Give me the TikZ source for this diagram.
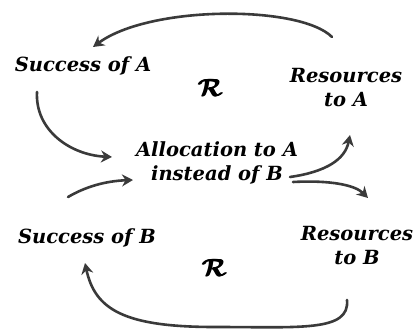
\documentclass[tikz,border=0pt]{standalone}
\usepackage{amsmath}
\usepackage{fontspec}
\setmainfont{DejaVu Serif}
\usetikzlibrary{arrows.meta}
\definecolor{ink}{HTML}{3A3A3A}
\begin{document}
\begin{tikzpicture}[x=1pt,y=-1pt,
  lbl/.style={font=\fontsize{19.5}{24}\selectfont\bfseries\itshape, align=center, inner sep=1pt},
  rr/.style={font=\fontsize{28}{28}\selectfont\boldmath},
  conn/.style={line width=2.6pt, draw=ink, line cap=round, -{Stealth[length=11pt,width=12pt]}}]
\useasboundingbox (0,0) rectangle (414,331);
\node[lbl] (sa) at (83,66) {Success of A};
\node[rr] (r1) at (211,88) {$\pmb{\mathcal{R}}$};
\node[lbl] (ra) at (346,88) {Resources\\to A};
\node[lbl] (al) at (217,163) {Allocation to A\\instead of B};
\node[lbl] (sb) at (87,238) {Success of B};
\node[rr] (r2) at (215,268) {$\pmb{\mathcal{R}}$};
\node[lbl] (rb) at (357,246) {Resources\\to B};
\coordinate (c1) at (332,37);
\coordinate (c1e) at (93,47);
\draw[conn] (c1) .. controls (300,5) and (150,5) .. (c1e);
\coordinate (c2) at (37,92);
\coordinate (c2e) at (112,157);
\draw[conn] (c2) .. controls (35,130) and (70,155) .. (c2e);
\coordinate (c3) at (290,177);
\coordinate (c3e) at (350,135);
\draw[conn] (c3) .. controls (325,172) and (345,160) .. (c3e);
\coordinate (c4) at (293,182);
\coordinate (c4e) at (368,198);
\draw[conn] (c4) .. controls (330,180) and (355,185) .. (c4e);
\coordinate (c5) at (68,197);
\coordinate (c5e) at (133,180);
\draw[conn] (c5) .. controls (85,187) and (105,181) .. (c5e);
\coordinate (c6) at (347,300);
\coordinate (c6e) at (85,263);
\draw[conn] (c6) .. controls (350,332) and (300,327) .. (215,327) .. controls (125,327) and (95,310) .. (c6e);
\end{tikzpicture}
\end{document}
